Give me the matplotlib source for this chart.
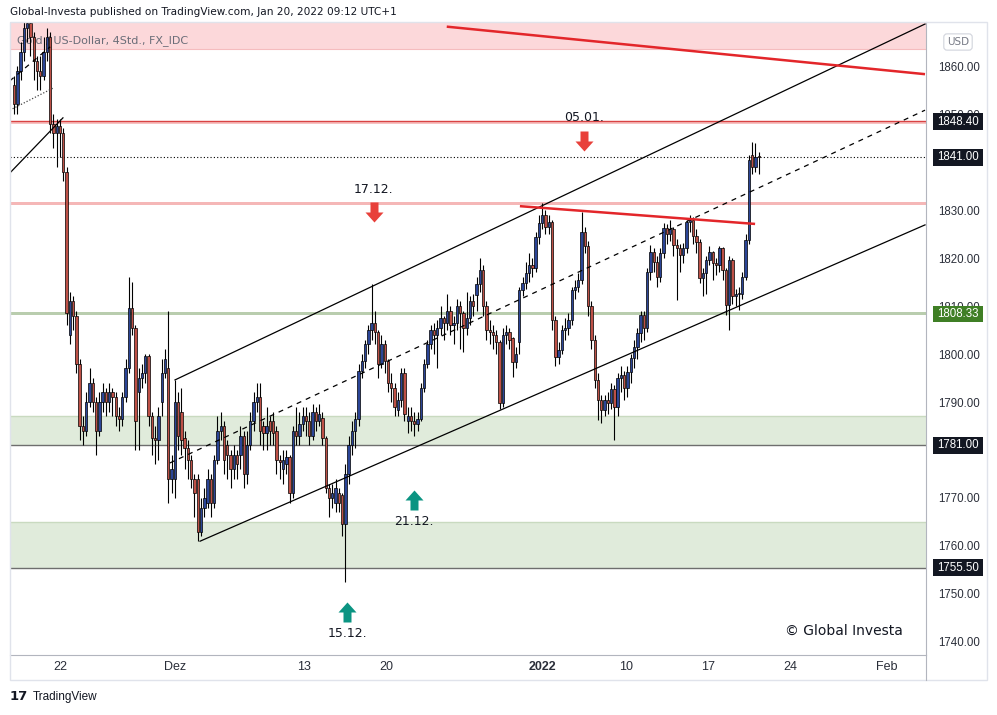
import numpy as np
import matplotlib.pyplot as plt
import matplotlib.transforms as mtransforms
from matplotlib.path import Path
from matplotlib.patches import Rectangle
from matplotlib.lines import Line2D

W, H = 997, 715

# Gold / US-Dollar, 4h candles (FX_IDC); bar 0 = Mon 22 Nov 2021, first bar shown = -14
first_bar = -14
opens = [
    1856, 1852, 1859, 1863, 1868, 1869, 1866, 1861, 1859, 1858,
    1863, 1866, 1848, 1846, 1847.5, 1846, 1838, 1804, 1811, 1808,
    1798, 1785, 1784, 1790, 1794, 1790, 1784, 1790, 1792, 1790,
    1792, 1791, 1787, 1786.5, 1791, 1797, 1809.5, 1805.5, 1792, 1795,
    1796, 1799.5, 1787, 1782.5, 1782, 1790, 1796, 1797, 1774, 1774,
    1790, 1788, 1782.5, 1780.5, 1778, 1774, 1774, 1763, 1768, 1769,
    1774, 1769, 1778, 1784, 1785, 1781, 1779, 1776, 1779, 1779,
    1783, 1775, 1781, 1786, 1790, 1791, 1785, 1783.5, 1786, 1786,
    1784, 1778, 1776, 1777, 1778.5, 1771, 1784, 1783, 1785.5, 1787,
    1786, 1783, 1788, 1786, 1786.6, 1782.5, 1772, 1770, 1769, 1771,
    1770.7, 1764.5, 1775, 1781, 1784, 1786.5, 1796.5, 1798.5, 1802, 1805,
    1806.5, 1804.5, 1798, 1802, 1798.5, 1794, 1793, 1788.3, 1790.5, 1796,
    1786, 1787, 1786, 1785.5, 1786.5, 1793, 1798, 1802, 1805, 1804,
    1805.5, 1807.5, 1806.5, 1809, 1806, 1806.5, 1810, 1808.5, 1805.5, 1807.5,
    1811, 1812.3, 1814.5, 1817.5, 1810, 1805, 1804.5, 1804, 1802.6, 1789.7,
    1804, 1804.5, 1803.3, 1798.4, 1802.6, 1813.3, 1814.7, 1816.8, 1818.5, 1818,
    1824.4, 1827.2, 1829, 1826.5, 1827.5, 1807.1, 1799.4, 1800.8, 1805, 1805.4,
    1807.1, 1813.3, 1814, 1815.4, 1825.5, 1822.4, 1810, 1803, 1794.6, 1790.4,
    1788.3, 1790.4, 1789.8, 1792.8, 1789, 1795, 1795.6, 1793, 1796.3, 1799.1,
    1801.5, 1804.3, 1808.1, 1805.4, 1817.1, 1821.3, 1819.2, 1816.1, 1821, 1826.2,
    1825.1, 1826, 1822.7, 1822, 1820.6, 1822, 1827.6, 1827.9, 1824.5, 1823.4,
    1815.8, 1816.8, 1819.6, 1821.3, 1818.9, 1818.5, 1822, 1817.5, 1810.2, 1819.6,
    1812, 1812.5, 1812.6, 1816.1, 1823.75, 1841.5, 1839, 1841.1,
]
highs = [
    1858, 1860, 1865, 1871, 1872, 1871, 1867, 1862, 1862, 1866,
    1868, 1867, 1850, 1849, 1849, 1847, 1839, 1813, 1812, 1809,
    1799, 1787, 1792, 1797, 1795, 1791, 1792, 1794, 1793, 1794,
    1793, 1792, 1789, 1792, 1799, 1816, 1815, 1806, 1797, 1798,
    1800, 1800, 1788, 1785, 1789, 1799, 1801, 1809, 1779, 1794.5,
    1792, 1793, 1784, 1782, 1779, 1775, 1775, 1770, 1772, 1776,
    1775, 1779, 1787, 1788, 1786, 1782, 1780, 1781, 1780, 1785,
    1784, 1784, 1788, 1792, 1794, 1794, 1786, 1789, 1787, 1788,
    1785, 1779, 1780, 1780, 1779, 1785, 1789, 1788, 1789, 1789,
    1788, 1789.5, 1789, 1789.5, 1788, 1783, 1773, 1773, 1774, 1772,
    1771, 1777, 1783, 1786, 1788, 1798, 1800, 1803, 1806, 1814.5,
    1809, 1805, 1804, 1803, 1799, 1796, 1794, 1792, 1797, 1797,
    1789, 1789, 1788, 1788, 1794, 1799, 1803, 1806, 1806.5, 1807,
    1810, 1808, 1812.5, 1810, 1808, 1811.5, 1811, 1809, 1813, 1812,
    1812.5, 1816, 1820, 1818.5, 1811, 1807, 1806, 1805, 1803, 1805.5,
    1806, 1805.5, 1803.5, 1801.5, 1814, 1816, 1819.2, 1821, 1820, 1825.5,
    1829, 1831.4, 1830, 1829, 1828, 1808, 1802.5, 1806, 1807.5, 1808.5,
    1814, 1815.5, 1816.8, 1829.6, 1826.5, 1823.5, 1811, 1804, 1796, 1791.5,
    1791.5, 1792, 1794, 1793.5, 1796, 1797.5, 1796.5, 1797.5, 1800, 1803,
    1805.5, 1809, 1809, 1818, 1822.7, 1822, 1820.5, 1822, 1827.2, 1827,
    1828, 1826.5, 1824, 1823, 1823.1, 1828, 1829, 1828.5, 1826, 1824,
    1818, 1820.5, 1822.4, 1821.5, 1820, 1822.4, 1822.2, 1818, 1820.5, 1820,
    1813.5, 1814, 1817, 1825, 1841.5, 1844.2, 1843.9, 1842,
]
lows = [
    1850, 1850, 1857, 1861, 1865, 1862, 1857, 1855, 1855, 1857,
    1861, 1846, 1843, 1839, 1841, 1836, 1806, 1802, 1805, 1796,
    1782, 1781, 1783, 1789, 1788, 1779, 1783, 1788, 1787, 1788,
    1787, 1785, 1784, 1785, 1790, 1796, 1804, 1780, 1780, 1793,
    1794, 1785, 1779, 1777, 1778, 1787, 1795, 1769, 1771, 1770,
    1780, 1779, 1776, 1774, 1772, 1766, 1761, 1762, 1766, 1768,
    1766, 1768, 1777, 1782, 1775, 1774, 1772, 1774, 1774, 1776,
    1772, 1773, 1780, 1784, 1788, 1781, 1780, 1780, 1781, 1781,
    1775, 1774, 1773, 1775, 1769, 1770, 1781, 1781, 1784, 1783,
    1781, 1782, 1784, 1785, 1781, 1771, 1766, 1768, 1767, 1767,
    1762, 1752.5, 1773, 1779, 1780.5, 1785, 1795, 1797, 1800, 1803,
    1802, 1795, 1797, 1796, 1792, 1790, 1787, 1787, 1789, 1786,
    1783.5, 1784, 1783, 1784, 1786, 1792, 1797, 1801, 1800, 1797,
    1804, 1803, 1805, 1804, 1802, 1805, 1801, 1800.5, 1804, 1806,
    1808, 1809, 1813, 1808, 1803, 1802, 1801, 1800, 1788.5, 1789,
    1802, 1801, 1795.3, 1797, 1800, 1812, 1813.5, 1815, 1816, 1817,
    1823, 1826, 1825, 1825, 1805, 1797.4, 1798, 1800, 1803, 1804,
    1806, 1811.5, 1813, 1814.5, 1821, 1808, 1801, 1793, 1786.25, 1785.6,
    1787, 1787.5, 1788.5, 1782.1, 1787, 1792, 1790.5, 1791, 1794, 1797,
    1799, 1802.5, 1803, 1804.5, 1815.5, 1817, 1814, 1815, 1820, 1823,
    1823.5, 1820.5, 1811.3, 1817, 1818.9, 1821, 1825.5, 1823, 1821, 1814.7,
    1812, 1812.6, 1818.5, 1815.4, 1816.5, 1817, 1815.5, 1808.1, 1805, 1810.5,
    1810, 1809.2, 1811.5, 1815.5, 1823, 1837.5, 1838, 1837.6,
]
closes = [
    1852, 1859, 1863, 1868, 1869, 1866, 1861, 1859, 1858, 1863,
    1866, 1848, 1846, 1847.5, 1846, 1838, 1808.5, 1811, 1808, 1798,
    1785, 1784, 1790, 1794, 1790, 1784, 1790, 1792, 1790, 1792,
    1791, 1787, 1786.5, 1791, 1797, 1809.5, 1805.5, 1786, 1795, 1796,
    1799.5, 1787, 1782.5, 1782, 1787, 1796, 1799, 1774, 1776, 1790,
    1783, 1782, 1780.5, 1778, 1774, 1771, 1763, 1768, 1770, 1774,
    1769, 1778, 1784, 1785, 1778, 1779, 1776, 1779, 1777, 1783,
    1775, 1781, 1786, 1790, 1791, 1784, 1783.5, 1785, 1784, 1783.5,
    1778, 1777.5, 1778, 1778.5, 1771, 1784, 1783, 1785.5, 1787, 1786,
    1783, 1788, 1786, 1787.5, 1782.5, 1772, 1770, 1771, 1772, 1769,
    1764.5, 1775, 1781, 1784, 1786.5, 1796.5, 1798.5, 1802, 1805, 1806.5,
    1804.5, 1798, 1802, 1798.5, 1794, 1793, 1789, 1790.5, 1796, 1787.5,
    1787, 1786, 1785.5, 1786.5, 1793, 1798, 1802, 1805, 1804, 1805.5,
    1807.5, 1806.5, 1809, 1806, 1806.5, 1810, 1808.5, 1805.5, 1807.5, 1811,
    1810, 1814.5, 1817.5, 1810, 1805, 1804.5, 1804, 1802.6, 1789.7, 1804,
    1804.5, 1803, 1798.4, 1800.1, 1813.3, 1814.7, 1816.8, 1818.5, 1818, 1824.4,
    1827.2, 1829, 1826.5, 1827.5, 1807.1, 1799.4, 1800.8, 1805, 1805.4, 1807.1,
    1813.3, 1814, 1815.4, 1825.5, 1822.4, 1810, 1803, 1794.6, 1790.4, 1788.3,
    1790.4, 1789.8, 1792.8, 1789, 1795, 1795.6, 1793, 1796.3, 1799.1, 1801.5,
    1804.3, 1808.1, 1805.4, 1817.1, 1821.3, 1819.2, 1816.1, 1821, 1826.2, 1825.1,
    1826, 1822.7, 1822, 1820.6, 1822, 1827.6, 1827.9, 1824.5, 1823.4, 1815.8,
    1816.8, 1819.6, 1821.3, 1818.9, 1818.5, 1822, 1817.5, 1810.2, 1819.6, 1812,
    1812.5, 1812.6, 1816.1, 1823.75, 1840.4, 1839, 1841.1, 1841,
]

# axis labels
xtick_pos = [0, 35, 74.5, 99.5, 147, 172.5, 197.5, 222.5, 252]
xtick_lab = ['22', 'Dez', '13', '20', '2022', '10', '17', '24', 'Feb']
ytick_vals = [1740, 1750, 1760, 1770, 1780, 1790, 1800, 1810, 1820, 1830, 1840, 1850, 1860]
hidden_ticks = [1780, 1840]   # fully covered by price tags in the original

# price tags on the right scale
tag_prices = [1848.40, 1841.00, 1808.33, 1781.00, 1755.50]
tag_colors = ['#131722', '#131722', '#3f7f25', '#131722', '#131722']

# drawn trend lines: (bar, price) end points
upper_channel = ([35.06, 263.7], [1794.6, 1868.75])
lower_channel = ([42.7, 263.7], [1761.0, 1826.9])
mid_channel = ([33.5, 263.7], [1777.3, 1850.8])
old_channel = ([-15.3, 0.9], [1837.7, 1849.2])
old_mid = ([-15.3, -3.0], [1856.9, 1864.0])
old_dotted = ([-15.3, -2.1], [1850.8, 1855.4])
red_long = ([117.9, 263.7], [1868.2, 1858.3])
red_short = ([140.2, 211.9], [1830.8, 1827.1])

# signal arrows
sig_labels = ['17.12.', '05.01.', '21.12.', '15.12.']
sig_bar = [95.7, 159.8, 107.9, 87.5]
sig_price = [1829.6, 1844.4, 1769.6, 1746.25]
sig_text_price = [1834.3, 1849.3, 1765.0, 1741.8]
sig_dir = ['down', 'down', 'up', 'up']

BLUE = '#2b4596'
RED = '#bd5046'
axis_font = 'Liberation Sans'

fig = plt.figure(figsize=(W / 100, H / 100), dpi=100)
ax = fig.add_axes([10 / W, 1 - 655 / H, 916 / W, 633 / H])
ax.set_xlim(-15.24, 264.0)
ax.set_ylim(1737.29, 1869.17)

# zones and horizontal levels
ax.axhspan(1863.5, 1880, color='#fcd8da', lw=0, zorder=0.5)
ax.axhline(1863.5, color='#f5bcbe', lw=0.8, zorder=0.6)
ax.axhspan(1847.9, 1848.6, color='#f7c2c2', lw=0, zorder=0.6)
ax.axhline(1848.6, color='#d94343', lw=1.0, zorder=0.7)
ax.axhspan(1830.95, 1831.75, color='#f5b7b7', lw=0, zorder=0.6)
ax.axhspan(1808.05, 1808.85, color='#b9cdae', lw=0, zorder=0.6)
ax.axhspan(1781.0, 1787.0, color='#e0ebdb', lw=0, zorder=0.5)
ax.axhline(1787.0, color='#c9dac0', lw=1.0, zorder=0.6)
ax.axhline(1781.0, color='#6e6e6e', lw=1.0, zorder=0.7)
ax.axhspan(1755.5, 1765.0, color='#e0ebdb', lw=0, zorder=0.5)
ax.axhline(1765.0, color='#c9dac0', lw=1.0, zorder=0.6)
ax.axhline(1755.5, color='#6e6e6e', lw=1.0, zorder=0.7)
ax.axhline(1841.0, color='black', lw=0.8, ls=(0, (1, 2)), zorder=0.8)

ax.text(0.0076, 0.970, 'Gold / US-Dollar, 4Std., FX_IDC', transform=ax.transAxes,
        fontsize=8, color='#6a6d78', va='center', ha='left', zorder=1)

# candles
o = np.array(opens)
hi = np.array(highs)
lo = np.array(lows)
c = np.array(closes)
x = np.arange(len(c)) + first_bar
body_col = np.where(c >= o, BLUE, RED)
ax.vlines(x, lo, hi, color='black', lw=0.8, zorder=3)
ax.bar(x, np.maximum(np.abs(c - o), 0.2), bottom=np.minimum(o, c), width=0.72,
       color=body_col, edgecolor='black', linewidth=0.5, zorder=4)

# trend lines
for xs, ys in [upper_channel, lower_channel, old_channel]:
    ax.plot(xs, ys, color='black', lw=0.9, zorder=5)
ax.plot(*mid_channel, color='black', lw=0.9, ls=(0, (4, 4)), zorder=5)
ax.plot(*old_mid, color='black', lw=0.9, ls=(0, (4, 4)), zorder=5)
ax.plot(*old_dotted, color='#444444', lw=0.9, ls=(0, (1, 1.5)), zorder=5)
ax.plot(*red_long, color='#e3262a', lw=1.8, zorder=5, solid_capstyle='butt')
ax.plot(*red_short, color='#e3262a', lw=1.8, zorder=5, solid_capstyle='butt')

# signal arrows
down_arrow = Path([(-0.2, 0.5), (0.2, 0.5), (0.2, 0.0), (0.45, 0.0), (0, -0.5),
                   (-0.45, 0.0), (-0.2, 0.0), (-0.2, 0.5)], closed=True)
up_arrow = Path([(-0.2, -0.5), (0.2, -0.5), (0.2, 0.0), (0.45, 0.0), (0, 0.5),
                 (-0.45, 0.0), (-0.2, 0.0), (-0.2, -0.5)], closed=True)
for lab, sx, sy, ty, d in zip(sig_labels, sig_bar, sig_price, sig_text_price, sig_dir):
    col = '#e8403a' if d == 'down' else '#0b9482'
    ax.plot([sx], [sy], marker=down_arrow if d == 'down' else up_arrow,
            markersize=14.4, color=col, mec='none', zorder=6, clip_on=False)
    ax.text(sx, ty, lab, ha='center', va='center', fontsize=9, color='#131722', zorder=6)

ax.text(0.9105, 0.038, '\u00a9 Global Investa', transform=ax.transAxes, ha='center',
        va='center', fontsize=10, color='#131722', zorder=6)

# axes styling
for s in ['top', 'left']:
    ax.spines[s].set_visible(False)
for s in ['right', 'bottom']:
    ax.spines[s].set_color('#b2b5be')
    ax.spines[s].set_linewidth(0.8)
ax.yaxis.tick_right()
ax.set_yticks(ytick_vals)
ax.set_yticklabels(['' if v in hidden_ticks else f'{v:.2f}' for v in ytick_vals])
ax.set_xticks(xtick_pos)
ax.set_xticklabels(xtick_lab)
ax.tick_params(axis='y', length=0, pad=8.6, labelsize=8.3, labelcolor='#2a2e39')
ax.tick_params(axis='x', length=0, pad=4, labelsize=9, labelcolor='#2a2e39')
for lab in ax.get_yticklabels() + ax.get_xticklabels():
    lab.set_fontfamily(axis_font)
    if lab.get_text() == '2022':
        lab.set_fontweight('bold')

# price tags
trans = mtransforms.blended_transform_factory(ax.transAxes, ax.transData)
for p, col in zip(tag_prices, tag_colors):
    ax.add_patch(Rectangle(((933 - 10) / 916, p - 1.75), 50 / 916, 3.5, transform=trans,
                           facecolor=col, edgecolor='none', clip_on=False, zorder=10))
    ax.text((958 - 10) / 916, p, f'{p:.2f}', transform=trans, ha='center', va='center',
            fontsize=8.3, color='white', fontfamily=axis_font, zorder=11, clip_on=False)

# frame, header, logo
fig.add_artist(Rectangle((10 / W, 1 - 680 / H), 977 / W, 658 / H, transform=fig.transFigure,
                         fill=False, edgecolor='#e0e3eb', lw=1))
fig.add_artist(Line2D([926 / W, 926 / W], [1 - 680 / H, 1 - 655 / H], transform=fig.transFigure,
                      color='#b2b5be', lw=0.8))
fig.text(958 / W, 1 - 42 / H, 'USD', ha='center', va='center', fontsize=7.5, color='#787b86',
         bbox=dict(boxstyle='round,pad=0.3', fc='white', ec='#d1d4dc', lw=0.8))
fig.text(10 / W, 1 - 12 / H, 'Global-Investa published on TradingView.com, Jan 20, 2022 09:12 UTC+1',
         ha='left', va='center', fontsize=7.6, color='#131722')
fig.text(10 / W, 1 - 697 / H, '17', ha='left', va='center', fontsize=9.5, fontweight='bold',
         color='#131722')
fig.text(33 / W, 1 - 697 / H, 'TradingView', ha='left', va='center', fontsize=8.5, color='#131722',
         fontfamily=axis_font)

fig.savefig('out.png', dpi=100)
